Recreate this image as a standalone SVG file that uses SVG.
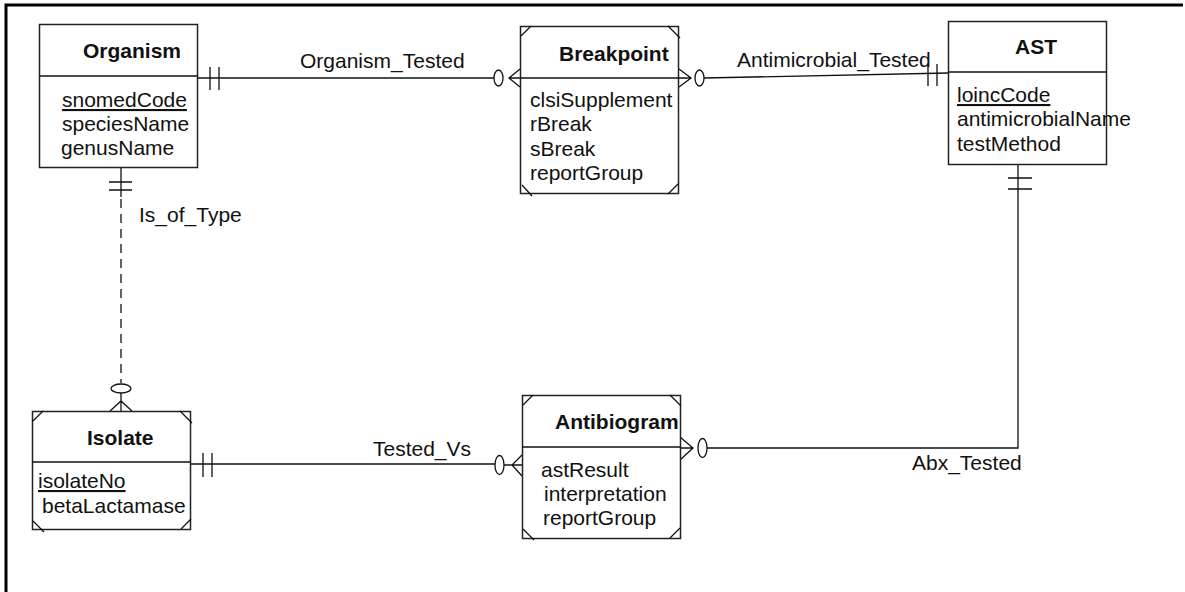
<svg xmlns="http://www.w3.org/2000/svg" width="1185" height="592" viewBox="0 0 1185 592">
<style>
.box{fill:#fff;stroke:#222;stroke-width:1.5}
.ln{fill:none;stroke:#111;stroke-width:1.3}
.dash{fill:none;stroke:#111;stroke-width:1.3;stroke-dasharray:9,6}
.ov{fill:#fff;stroke:#111;stroke-width:1.3}
text{font-family:"Liberation Sans",Arial,sans-serif;font-size:21px;fill:#111}
.t{font-weight:bold}
.u{text-decoration:underline}
</style>
<rect width="1185" height="592" fill="#fff"/>
<path d="M6 592V5H1183" fill="none" stroke="#000" stroke-width="3"/>

<g id="connectors">
  <!-- Organism - Breakpoint -->
  <path class="ln" d="M197 78H494"/>
  <path class="ln" d="M210 67V90M219 67V90"/>
  <ellipse class="ov" cx="498.5" cy="78" rx="4.5" ry="8"/>
  <path class="ln" d="M520 69L509 78L520 87M509 78H520"/>
  <text x="300" y="68">Organism_Tested</text>
  <!-- Breakpoint - AST -->
  <path class="ln" d="M704 78L948 73"/>
  <ellipse class="ov" cx="699.5" cy="78" rx="4.5" ry="8"/>
  <path class="ln" d="M679 69L691 78L679 87M691 78H679"/>
  <path class="ln" d="M928 64V86M937 64V86"/>
  <text x="737" y="67">Antimicrobial_Tested</text>
  <!-- Organism - Isolate -->
  <path class="ln" d="M121 168V197"/>
  <path class="dash" d="M121 199V383"/>
  <path class="ln" d="M109 182H132M109 190H132"/>
  <ellipse class="ov" cx="121" cy="388.5" rx="10" ry="4.5"/>
  <path class="ln" d="M110 411L121 401L132 411M121 401V411M121 393V401"/>
  <text x="139" y="222">Is_of_Type</text>
  <!-- Isolate - Antibiogram -->
  <path class="ln" d="M191 464H495"/>
  <path class="ln" d="M203 453V477M212 453V477"/>
  <ellipse class="ov" cx="499.5" cy="465" rx="4.5" ry="9.5"/>
  <path class="ln" d="M504 465H512M522 455L512 465L522 476M512 465H522"/>
  <text x="373" y="456">Tested_Vs</text>
  <!-- AST - Antibiogram -->
  <path class="ln" d="M1018 164V448H707"/>
  <path class="ln" d="M1008 178H1032M1008 189H1032"/>
  <ellipse class="ov" cx="702.5" cy="448" rx="4.5" ry="9.5"/>
  <path class="ln" d="M680 437L693 448L680 460M693 448H680"/>
  <text x="912" y="470">Abx_Tested</text>
</g>

<g id="organism">
  <rect class="box" x="39.5" y="24.5" width="158" height="143"/>
  <path class="ln" d="M39.5 76H197.5"/>
  <text class="t" x="83" y="58">Organism</text>
  <text class="u" x="62" y="107">snomedCode</text>
  <text x="62" y="131">speciesName</text>
  <text x="61" y="155">genusName</text>
</g>

<g id="breakpoint">
  <rect class="box" x="520.5" y="26.5" width="158" height="167"/>
  <path class="ln" d="M520.5 78H678.5"/>
  <path class="ln" d="M521 36L531 26M668 26L680 38M522 185L532 196M668 194L678 184"/>
  <text class="t" x="559" y="61">Breakpoint</text>
  <text x="530" y="107">clsiSupplement</text>
  <text x="530" y="131">rBreak</text>
  <text x="530" y="156">sBreak</text>
  <text x="530" y="180">reportGroup</text>
</g>

<g id="ast">
  <rect class="box" x="948.5" y="21.5" width="158" height="143"/>
  <path class="ln" d="M948.5 72H1106.5"/>
  <text class="t" x="1015" y="54">AST</text>
  <text class="u" x="957" y="102">loincCode</text>
  <text x="957" y="126">antimicrobialName</text>
  <text x="957" y="151">testMethod</text>
</g>

<g id="isolate">
  <rect class="box" x="32.5" y="411.5" width="158" height="118"/>
  <path class="ln" d="M32.5 462H190.5"/>
  <path class="ln" d="M33 421L43 411M180 411L192 423M33 521L44 532M181 529L191 519"/>
  <text class="t" x="87" y="445">Isolate</text>
  <text class="u" x="38" y="488">isolateNo</text>
  <text x="42" y="513">betaLactamase</text>
</g>

<g id="antibiogram">
  <rect class="box" x="522.5" y="395.5" width="158" height="143"/>
  <path class="ln" d="M522.5 447H680.5"/>
  <path class="ln" d="M523 405L533 395M670 395L681 406M523 529L534 540M670 538L680 528"/>
  <text class="t" x="555" y="429">Antibiogram</text>
  <text x="541" y="477">astResult</text>
  <text x="544" y="501">interpretation</text>
  <text x="543" y="525">reportGroup</text>
</g>
</svg>
